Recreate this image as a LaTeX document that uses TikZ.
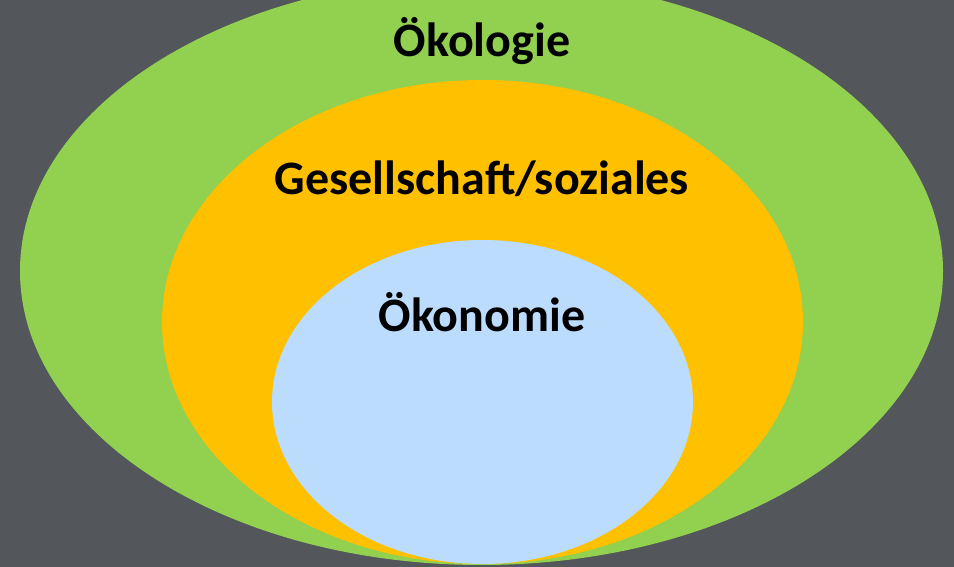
\documentclass[tikz,border=0pt]{standalone}
\usepackage{fontspec}
\setmainfont{Carlito}
\usetikzlibrary{shapes.geometric}
\definecolor{bggrey}{HTML}{53565B}
\definecolor{oekogreen}{HTML}{92D050}
\definecolor{sozorange}{HTML}{FFC000}
\definecolor{oekoblue}{HTML}{BBDCFC}
\tikzset{
  ring/.style={ellipse, inner sep=0pt},
  lbl/.style={font=\bfseries\fontsize{48}{52}\selectfont, anchor=base, inner sep=0pt}
}
\begin{document}
\begin{tikzpicture}[x=1pt,y=-1pt]
  \useasboundingbox (0,0) rectangle (954,567);
  \clip (0,0) rectangle (954,567);
  \fill[bggrey] (0,0) rectangle (954,567);
  \node[ring, fill=oekogreen, minimum width=923, minimum height=588] (oeko) at (481.5,271) {};
  \node[ring, fill=sozorange, minimum width=641, minimum height=484] (soz) at (482.5,322) {};
  \node[ring, fill=oekoblue, minimum width=421, minimum height=324] (wirt) at (482.5,402) {};
  \node[lbl] (oekolbl) at (482,57) {Ökologie};
  \node[lbl] (sozlbl) at (482,195) {Gesellschaft/soziales};
  \node[lbl] (wirtlbl) at (482,331) {Ökonomie};
\end{tikzpicture}
\end{document}
